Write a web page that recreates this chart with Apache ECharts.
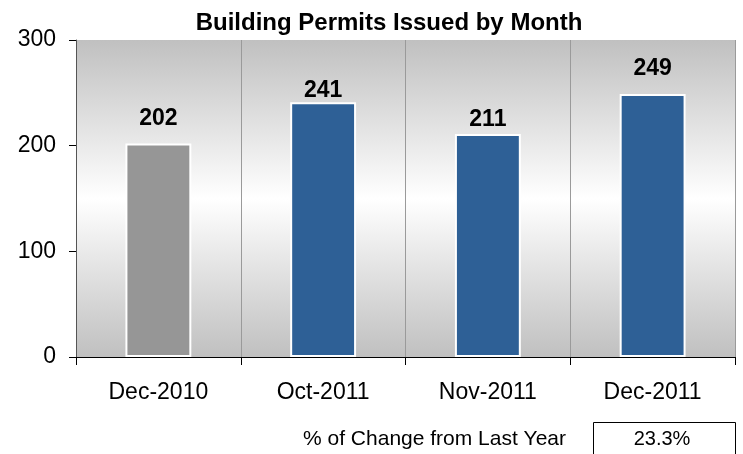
<!DOCTYPE html>
<html>
<head>
<meta charset="utf-8">
<script src="https://cdn.jsdelivr.net/npm/echarts@6/dist/echarts.min.js"></script>
<style>html,body{margin:0;padding:0;background:#fff}#c{width:743px;height:454px}</style>
</head>
<body>
<div id="c"></div>
<script>
const categories = ['Dec-2010', 'Oct-2011', 'Nov-2011', 'Dec-2011'];
const permits = [202, 241, 211, 249];
const yTicks = [0, 100, 200, 300];
const changeLabel = '% of Change from Last Year';
const changeValue = '23.3%';

const barColors = ['#969696', '#2e6096', '#2e6096', '#2e6096'];
const labelGaps = [13, 0, 3, 14];

const chart = echarts.init(document.getElementById('c'));
const font = 'Arial, "Liberation Sans", sans-serif';
chart.setOption({
  animation: false,
  title: {
    text: 'Building Permits Issued by Month',
    left: 384, top: 6, textAlign: 'center',
    textStyle: { fontFamily: font, fontWeight: 'bold', fontSize: 24, color: '#000' }
  },
  grid: {
    left: 76, right: 8, top: 40, bottom: 97, show: true, borderWidth: 0,
    backgroundColor: new echarts.graphic.LinearGradient(0, 0, 0, 1, [
      { offset: 0, color: '#c0c0c0' },
      { offset: 0.5, color: '#ffffff' },
      { offset: 1, color: '#c0c0c0' }
    ])
  },
  xAxis: {
    type: 'category', data: categories,
    axisLine: { lineStyle: { color: '#000', width: 1 } },
    axisTick: { show: true, length: 8, lineStyle: { color: '#000' } },
    axisLabel: { fontFamily: font, fontSize: 23, color: '#000', margin: 24 },
    splitLine: { show: true, lineStyle: { color: '#9a9a9a', width: 1 } }
  },
  yAxis: {
    type: 'value', min: yTicks[0], max: yTicks[yTicks.length - 1], interval: yTicks[1] - yTicks[0],
    axisLine: { show: true, lineStyle: { color: '#555', width: 1 } },
    axisTick: { show: true, length: 7, lineStyle: { color: '#000' } },
    axisLabel: { fontFamily: font, fontSize: 23, color: '#000', margin: 20 },
    splitLine: { show: false }
  },
  series: [{
    type: 'bar',
    barWidth: '40%',
    data: permits.map((v, i) => ({
      value: v,
      itemStyle: { color: barColors[i], borderColor: '#fff', borderWidth: 2 },
      label: { distance: labelGaps[i] }
    })),
    label: {
      show: true, position: 'top',
      fontFamily: font, fontWeight: 'bold', fontSize: 23, color: '#000'
    }
  }],
  graphic: [
    {
      type: 'text', x: 303, y: 439,
      style: { text: changeLabel, font: '21px Arial, "Liberation Sans", sans-serif', fill: '#000', verticalAlign: 'middle' }
    },
    {
      type: 'rect', left: 593, top: 422,
      shape: { width: 142, height: 40 },
      style: { fill: '#fff', stroke: '#000', lineWidth: 1 }
    },
    {
      type: 'text', x: 662, y: 439,
      style: { text: changeValue, font: '20px Arial, "Liberation Sans", sans-serif', fill: '#000', align: 'center', verticalAlign: 'middle' }
    }
  ]
});
</script>
</body>
</html>
